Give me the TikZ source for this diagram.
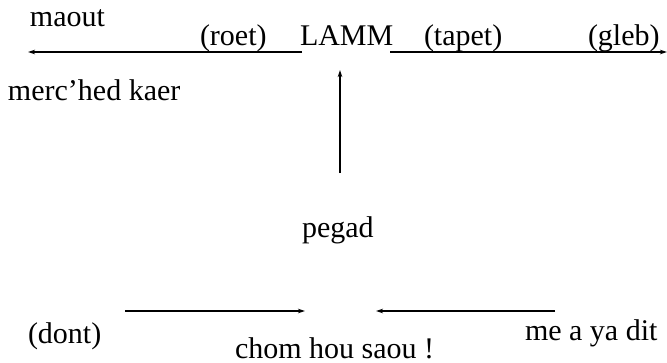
\documentclass[tikz,border=0pt]{standalone}
\usepackage{fontspec}
\setmainfont{Liberation Serif}
\usetikzlibrary{arrows.meta}
\begin{document}
\begin{tikzpicture}[x=1pt,y=-1pt,
  lbl/.style={anchor=base west,inner sep=0pt,outer sep=0pt,font=\fontsize{30pt}{36pt}\selectfont},
  arr/.style={line width=1.3pt,-{Stealth[length=7pt,width=4.5pt]}}]
\useasboundingbox (0,0) rectangle (667,362);
\node[lbl] (maout) at (30,26) {maout};
\node[lbl] (roet) at (200,45) {(roet)};
\node[lbl] (lamm) at (300,45) {LAMM};
\node[lbl] (tapet) at (424,45) {(tapet)};
\node[lbl] (gleb) at (588,45) {(gleb)};
\node[lbl] (merc) at (8,100) {merc’hed kaer};
\node[lbl] (pegad) at (302,237) {pegad};
\node[lbl] (dont) at (28,343) {(dont)};
\node[lbl] (meaya) at (525,340) {me a ya dit};
\node[lbl] (chom) at (235,358) {chom hou saou !};
\coordinate (tl1) at (302,52);
\coordinate (tl2) at (28,52);
\coordinate (tr1) at (390,52);
\coordinate (tr2) at (667,52);
\coordinate (v1) at (340,173);
\coordinate (v2) at (340,70);
\coordinate (bl1) at (125,311);
\coordinate (bl2) at (305,311);
\coordinate (br1) at (555,311);
\coordinate (br2) at (376,311);
\draw[arr] (tl1) -- (tl2);
\draw[arr] (tr1) -- (tr2);
\draw[arr] (v1) -- (v2);
\draw[arr] (bl1) -- (bl2);
\draw[arr] (br1) -- (br2);
\end{tikzpicture}
\end{document}
